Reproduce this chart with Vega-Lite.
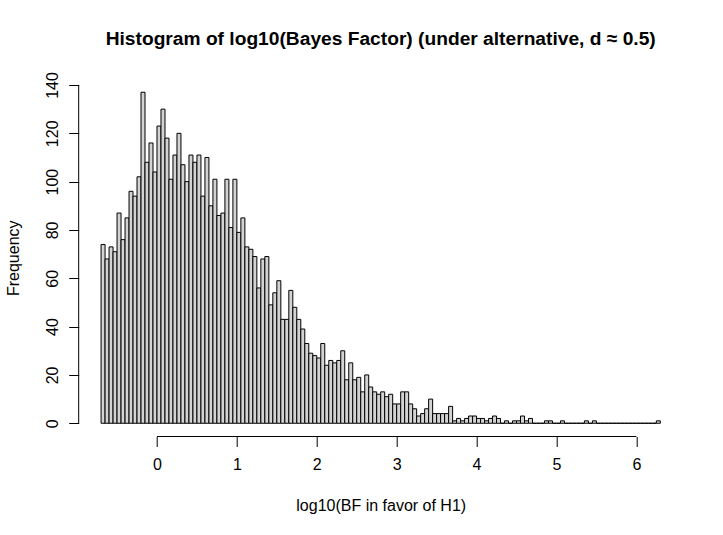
{
  "$schema": "https://vega.github.io/schema/vega-lite/v6.json",
  "width": 604,
  "height": 357.5,
  "autosize": {"type": "none"},
  "padding": {"left": 78.7, "top": 79, "right": 40.3, "bottom": 98.5},
  "background": "white",
  "config": {"view": {"stroke": null}, "font": "Liberation Sans"},
  "title": {
    "text": "Histogram of log10(Bayes Factor) (under alternative, d ≈ 0.5)",
    "fontSize": 19.2,
    "fontWeight": "bold",
    "font": "Liberation Sans",
    "color": "black",
    "anchor": "middle",
    "frame": "group",
    "baseline": "alphabetic",
    "offset": 7
  },
  "layer": [
    {
      "data": {"values": [
        {"a": -0.70, "b": -0.65, "n": 74}, {"a": -0.65, "b": -0.60, "n": 68}, {"a": -0.60, "b": -0.55, "n": 73}, {"a": -0.55, "b": -0.50, "n": 71},
        {"a": -0.50, "b": -0.45, "n": 87}, {"a": -0.45, "b": -0.40, "n": 76}, {"a": -0.40, "b": -0.35, "n": 85}, {"a": -0.35, "b": -0.30, "n": 96},
        {"a": -0.30, "b": -0.25, "n": 94}, {"a": -0.25, "b": -0.20, "n": 102}, {"a": -0.20, "b": -0.15, "n": 137}, {"a": -0.15, "b": -0.10, "n": 108},
        {"a": -0.10, "b": -0.05, "n": 116}, {"a": -0.05, "b": 0.00, "n": 104}, {"a": 0.00, "b": 0.05, "n": 123}, {"a": 0.05, "b": 0.10, "n": 130},
        {"a": 0.10, "b": 0.15, "n": 118}, {"a": 0.15, "b": 0.20, "n": 101}, {"a": 0.20, "b": 0.25, "n": 111}, {"a": 0.25, "b": 0.30, "n": 120},
        {"a": 0.30, "b": 0.35, "n": 107}, {"a": 0.35, "b": 0.40, "n": 100}, {"a": 0.40, "b": 0.45, "n": 111}, {"a": 0.45, "b": 0.50, "n": 108},
        {"a": 0.50, "b": 0.55, "n": 111}, {"a": 0.55, "b": 0.60, "n": 94}, {"a": 0.60, "b": 0.65, "n": 110}, {"a": 0.65, "b": 0.70, "n": 90},
        {"a": 0.70, "b": 0.75, "n": 101}, {"a": 0.75, "b": 0.80, "n": 86}, {"a": 0.80, "b": 0.85, "n": 87}, {"a": 0.85, "b": 0.90, "n": 101},
        {"a": 0.90, "b": 0.95, "n": 81}, {"a": 0.95, "b": 1.00, "n": 101}, {"a": 1.00, "b": 1.05, "n": 79}, {"a": 1.05, "b": 1.10, "n": 85},
        {"a": 1.10, "b": 1.15, "n": 73}, {"a": 1.15, "b": 1.20, "n": 72}, {"a": 1.20, "b": 1.25, "n": 69}, {"a": 1.25, "b": 1.30, "n": 56},
        {"a": 1.30, "b": 1.35, "n": 68}, {"a": 1.35, "b": 1.40, "n": 69}, {"a": 1.40, "b": 1.45, "n": 49}, {"a": 1.45, "b": 1.50, "n": 54},
        {"a": 1.50, "b": 1.55, "n": 59}, {"a": 1.55, "b": 1.60, "n": 43}, {"a": 1.60, "b": 1.65, "n": 43}, {"a": 1.65, "b": 1.70, "n": 55},
        {"a": 1.70, "b": 1.75, "n": 48}, {"a": 1.75, "b": 1.80, "n": 43}, {"a": 1.80, "b": 1.85, "n": 39}, {"a": 1.85, "b": 1.90, "n": 33},
        {"a": 1.90, "b": 1.95, "n": 29}, {"a": 1.95, "b": 2.00, "n": 28}, {"a": 2.00, "b": 2.05, "n": 27}, {"a": 2.05, "b": 2.10, "n": 33},
        {"a": 2.10, "b": 2.15, "n": 24}, {"a": 2.15, "b": 2.20, "n": 26}, {"a": 2.20, "b": 2.25, "n": 25}, {"a": 2.25, "b": 2.30, "n": 26},
        {"a": 2.30, "b": 2.35, "n": 30}, {"a": 2.35, "b": 2.40, "n": 18}, {"a": 2.40, "b": 2.45, "n": 25}, {"a": 2.45, "b": 2.50, "n": 18},
        {"a": 2.50, "b": 2.55, "n": 19}, {"a": 2.55, "b": 2.60, "n": 13}, {"a": 2.60, "b": 2.65, "n": 20}, {"a": 2.65, "b": 2.70, "n": 15},
        {"a": 2.70, "b": 2.75, "n": 13}, {"a": 2.75, "b": 2.80, "n": 12}, {"a": 2.80, "b": 2.85, "n": 13}, {"a": 2.85, "b": 2.90, "n": 11},
        {"a": 2.90, "b": 2.95, "n": 12}, {"a": 2.95, "b": 3.00, "n": 8}, {"a": 3.00, "b": 3.05, "n": 8}, {"a": 3.05, "b": 3.10, "n": 13},
        {"a": 3.10, "b": 3.15, "n": 13}, {"a": 3.15, "b": 3.20, "n": 8}, {"a": 3.20, "b": 3.25, "n": 6}, {"a": 3.25, "b": 3.30, "n": 3},
        {"a": 3.30, "b": 3.35, "n": 4}, {"a": 3.35, "b": 3.40, "n": 6}, {"a": 3.40, "b": 3.45, "n": 10}, {"a": 3.45, "b": 3.50, "n": 4},
        {"a": 3.50, "b": 3.55, "n": 4}, {"a": 3.55, "b": 3.60, "n": 4}, {"a": 3.60, "b": 3.65, "n": 4}, {"a": 3.65, "b": 3.70, "n": 7},
        {"a": 3.70, "b": 3.75, "n": 1}, {"a": 3.75, "b": 3.80, "n": 2}, {"a": 3.80, "b": 3.85, "n": 1}, {"a": 3.85, "b": 3.90, "n": 2},
        {"a": 3.90, "b": 3.95, "n": 3}, {"a": 3.95, "b": 4.00, "n": 3}, {"a": 4.00, "b": 4.05, "n": 2}, {"a": 4.05, "b": 4.10, "n": 2},
        {"a": 4.10, "b": 4.15, "n": 1}, {"a": 4.15, "b": 4.20, "n": 2}, {"a": 4.20, "b": 4.25, "n": 3}, {"a": 4.25, "b": 4.30, "n": 2},
        {"a": 4.30, "b": 4.35, "n": 0}, {"a": 4.35, "b": 4.40, "n": 1}, {"a": 4.40, "b": 4.45, "n": 0}, {"a": 4.45, "b": 4.50, "n": 1},
        {"a": 4.50, "b": 4.55, "n": 1}, {"a": 4.55, "b": 4.60, "n": 3}, {"a": 4.60, "b": 4.65, "n": 1}, {"a": 4.65, "b": 4.70, "n": 2},
        {"a": 4.70, "b": 4.75, "n": 0}, {"a": 4.75, "b": 4.80, "n": 0}, {"a": 4.80, "b": 4.85, "n": 0}, {"a": 4.85, "b": 4.90, "n": 1},
        {"a": 4.90, "b": 4.95, "n": 1}, {"a": 4.95, "b": 5.00, "n": 0}, {"a": 5.00, "b": 5.05, "n": 0}, {"a": 5.05, "b": 5.10, "n": 1},
        {"a": 5.10, "b": 5.15, "n": 0}, {"a": 5.15, "b": 5.20, "n": 0}, {"a": 5.20, "b": 5.25, "n": 0}, {"a": 5.25, "b": 5.30, "n": 0},
        {"a": 5.30, "b": 5.35, "n": 0}, {"a": 5.35, "b": 5.40, "n": 1}, {"a": 5.40, "b": 5.45, "n": 0}, {"a": 5.45, "b": 5.50, "n": 1},
        {"a": 5.50, "b": 5.55, "n": 0}, {"a": 5.55, "b": 5.60, "n": 0}, {"a": 5.60, "b": 5.65, "n": 0}, {"a": 5.65, "b": 5.70, "n": 0},
        {"a": 5.70, "b": 5.75, "n": 0}, {"a": 5.75, "b": 5.80, "n": 0}, {"a": 5.80, "b": 5.85, "n": 0}, {"a": 5.85, "b": 5.90, "n": 0},
        {"a": 5.90, "b": 5.95, "n": 0}, {"a": 5.95, "b": 6.00, "n": 0}, {"a": 6.00, "b": 6.05, "n": 0}, {"a": 6.05, "b": 6.10, "n": 0},
        {"a": 6.10, "b": 6.15, "n": 0}, {"a": 6.15, "b": 6.20, "n": 0}, {"a": 6.20, "b": 6.25, "n": 0}, {"a": 6.25, "b": 6.30, "n": 1}
      ]},
      "mark": {"type": "rect", "fill": "#D3D3D3", "stroke": "black", "strokeWidth": 1},
      "encoding": {
        "x": {
          "field": "a", "type": "quantitative",
          "scale": {"domain": [-0.98, 6.58], "nice": false, "zero": false},
          "axis": {
            "values": [0, 1, 2, 3, 4, 5, 6],
            "format": "d",
            "domain": false, "grid": false,
            "tickSize": 10, "tickColor": "black", "tickWidth": 1,
            "labelFontSize": 16, "labelColor": "black", "labelFont": "Liberation Sans",
            "labelBaseline": "alphabetic", "labelPadding": 22.5,
            "labelFlush": false, "labelOverlap": false,
            "title": "log10(BF in favor of H1)",
            "titleFontSize": 16, "titleFontWeight": "normal", "titleColor": "black", "titleFont": "Liberation Sans",
            "titleBaseline": "alphabetic", "titleAlign": "center", "titleX": 302, "titleY": 73.5
          }
        },
        "x2": {"field": "b"},
        "y": {
          "field": "n", "type": "quantitative",
          "scale": {"domain": [-5.48, 142.48], "nice": false, "zero": false},
          "axis": {
            "values": [0, 20, 40, 60, 80, 100, 120, 140],
            "format": "d",
            "domain": false, "grid": false,
            "tickSize": 10, "tickColor": "black", "tickWidth": 1,
            "labelFontSize": 16, "labelColor": "black", "labelFont": "Liberation Sans",
            "labelAngle": 270, "labelAlign": "center", "labelBaseline": "alphabetic", "labelPadding": 11.4,
            "labelFlush": false, "labelOverlap": false,
            "title": "Frequency",
            "titleFontSize": 16, "titleFontWeight": "normal", "titleColor": "black", "titleFont": "Liberation Sans",
            "titleAngle": 270, "titleBaseline": "alphabetic", "titleAlign": "center", "titleX": -60.5, "titleY": 178.75
          }
        },
        "y2": {"datum": 0}
      }
    },
    {
      "data": {"values": [{}]},
      "mark": {"type": "rule", "stroke": "black", "strokeWidth": 1},
      "encoding": {
        "x": {"datum": 0, "type": "quantitative"},
        "x2": {"datum": 6},
        "y": {"datum": -5.48, "type": "quantitative"}
      }
    },
    {
      "data": {"values": [{}]},
      "mark": {"type": "rule", "stroke": "black", "strokeWidth": 1},
      "encoding": {
        "y": {"datum": 0, "type": "quantitative"},
        "y2": {"datum": 140},
        "x": {"datum": -0.98, "type": "quantitative"}
      }
    }
  ]
}
